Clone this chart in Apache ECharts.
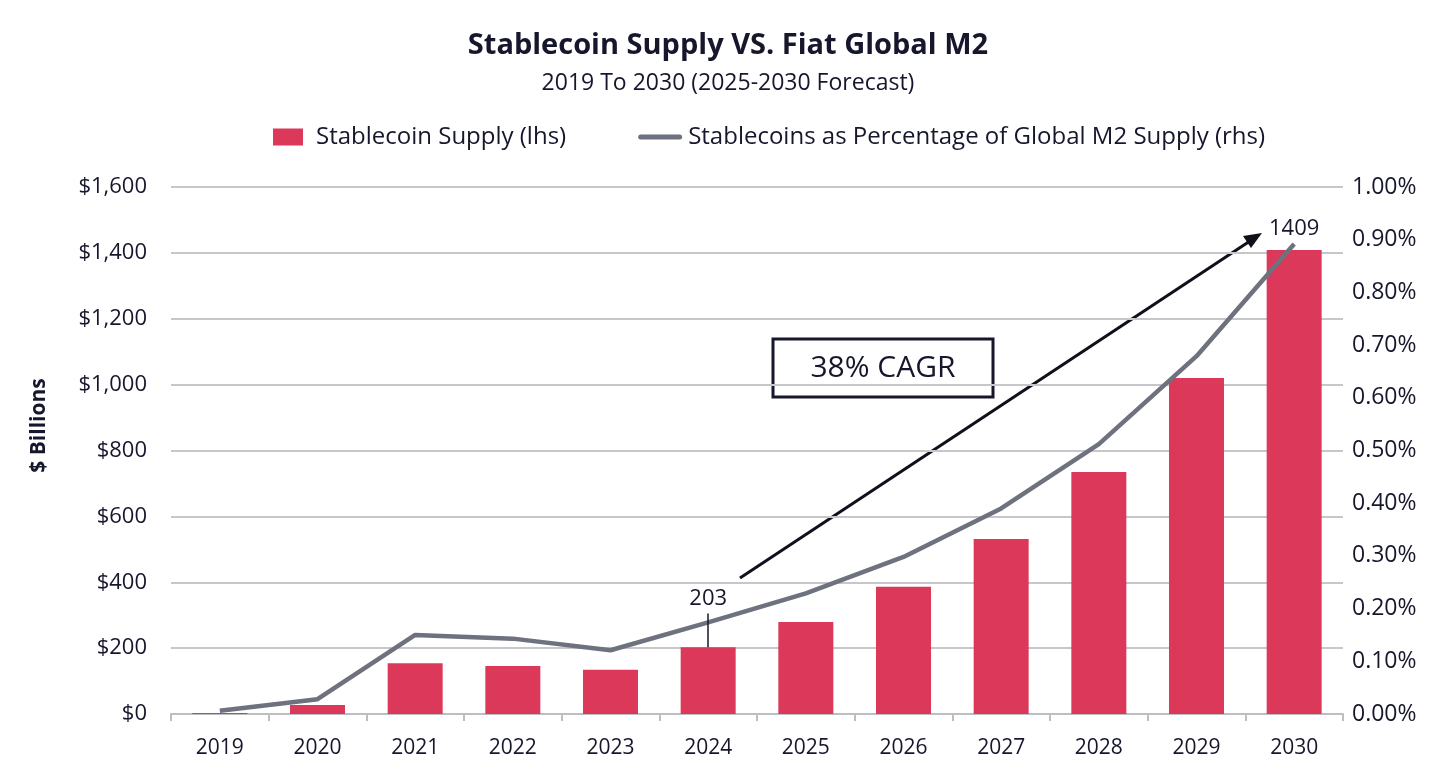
<!DOCTYPE html>
<html>
<head>
<meta charset="utf-8">
<script src="https://cdn.jsdelivr.net/npm/echarts@6/dist/echarts.min.js"></script>
<style>
  html, body { margin: 0; padding: 0; background: #fff; }
  #chart { width: 1456px; height: 771px; }
</style>
</head>
<body>
<div id="chart"></div>
<script>
// years on the x axis
var years = ['2019', '2020', '2021', '2022', '2023', '2024', '2025', '2026', '2027', '2028', '2029', '2030'];
// stablecoin supply, $ billions (lhs)
var supply = [3, 27, 154, 146, 134, 203, 279, 386, 531, 735, 1020, 1409];
// stablecoins as % of global M2 (rhs)
var pctM2 = [0.006, 0.028, 0.150, 0.143, 0.121, 0.174, 0.229, 0.298, 0.390, 0.512, 0.679, 0.892];

var ink = '#16162c';
var font = 'Open Sans';

var chart = echarts.init(document.getElementById('chart'));

// only 2024 and 2030 carry a value label
var barData = supply.map(function (v, i) {
  if (years[i] === '2024') {
    return { value: v, label: { show: true, position: 'top', distance: 37 } };
  }
  if (years[i] === '2030') {
    return { value: v, label: { show: true, position: 'top', distance: 10 } };
  }
  return v;
});

var option = {
  animation: false,
  backgroundColor: '#fff',
  textStyle: { fontFamily: font, color: ink },
  title: {
    text: 'Stablecoin Supply VS. Fiat Global M2',
    subtext: '2019 To 2030 (2025-2030 Forecast)',
    left: 'center',
    top: 26,
    itemGap: 12,
    textStyle: { fontFamily: font, fontSize: 29, fontWeight: 'bold', color: ink },
    subtextStyle: { fontFamily: font, fontSize: 23, color: ink }
  },
  legend: {
    left: 268,
    top: 120,
    itemGap: 72,
    itemWidth: 44,
    itemHeight: 17,
    textStyle: { fontFamily: font, fontSize: 24, color: ink, padding: [0, 0, 0, 1] },
    data: [
      { name: 'Stablecoin Supply (lhs)', icon: 'path://M0,0 L30,0 L30,17 L0,17 Z' },
      { name: 'Stablecoins as Percentage of Global M2 Supply (rhs)',
        icon: 'path://M2.5,0 L41.5,0 A2.5,2.5 0 0 1 41.5,5 L2.5,5 A2.5,2.5 0 0 1 2.5,0 Z' }
    ]
  },
  grid: { left: 171, right: 113, top: 187, bottom: 57 },
  xAxis: {
    type: 'category',
    data: years,
    boundaryGap: true,
    axisLine: { lineStyle: { color: '#bdbdc2', width: 2 } },
    axisTick: { show: true, length: 7, lineStyle: { color: '#bdbdc2', width: 2 } },
    axisLabel: { fontFamily: font, fontSize: 21, color: ink, margin: 24 }
  },
  yAxis: [
    {
      type: 'value',
      min: 0,
      max: 1600,
      interval: 200,
      name: '$ Billions',
      nameLocation: 'middle',
      nameRotate: 90,
      nameGap: 121,
      nameTextStyle: { fontFamily: font, fontSize: 21, fontWeight: 'bold', color: ink, padding: [0, 0, 0, 50] },
      axisLine: { show: false },
      axisTick: { show: false },
      axisLabel: {
        fontFamily: font, fontSize: 22, color: ink, margin: 24,
        formatter: function (v) { return '$' + v.toLocaleString('en-US'); }
      },
      splitLine: { lineStyle: { color: '#c6c6cb', width: 2 } }
    },
    {
      type: 'value',
      min: 0,
      max: 1,
      interval: 0.1,
      axisLine: { show: false },
      axisTick: { show: false },
      splitLine: { show: false },
      axisLabel: {
        fontFamily: font, fontSize: 23, color: ink, margin: 9,
        formatter: function (v) { return v.toFixed(2) + '%'; }
      }
    }
  ],
  series: [
    {
      name: 'Stablecoin Supply (lhs)',
      type: 'bar',
      yAxisIndex: 0,
      barWidth: 55,
      itemStyle: { color: '#dc3859' },
      label: { show: false, fontFamily: font, fontSize: 22, color: ink },
      data: barData,
      markLine: {
        silent: true,
        symbol: 'none',
        label: { show: false },
        lineStyle: { color: ink, width: 1.5, type: 'solid' },
        data: [[{ coord: ['2024', 203] }, { coord: ['2024', 305] }]]
      }
    },
    {
      name: 'Stablecoins as Percentage of Global M2 Supply (rhs)',
      type: 'line',
      yAxisIndex: 1,
      symbol: 'none',
      lineStyle: { color: '#6e717e', width: 4.5 },
      itemStyle: { color: '#6e717e' },
      data: pctM2
    }
  ],
  graphic: [
    {
      type: 'line',
      shape: { x1: 740, y1: 578, x2: 1250, y2: 241 },
      style: { stroke: '#10101c', lineWidth: 3 }
    },
    {
      type: 'polygon',
      shape: { points: [[1262, 233], [1243, 236], [1251, 248]] },
      style: { fill: '#10101c' }
    },
    {
      type: 'rect',
      shape: { x: 773, y: 339, width: 220, height: 58 },
      style: { fill: '#fff', stroke: '#16162c', lineWidth: 3 }
    },
    {
      type: 'text',
      x: 883,
      y: 368,
      style: {
        text: '38% CAGR',
        fontFamily: font,
        fontSize: 30,
        fill: ink,
        align: 'center',
        verticalAlign: 'middle'
      }
    }
  ]
};

chart.setOption(option);
</script>
</body>
</html>
